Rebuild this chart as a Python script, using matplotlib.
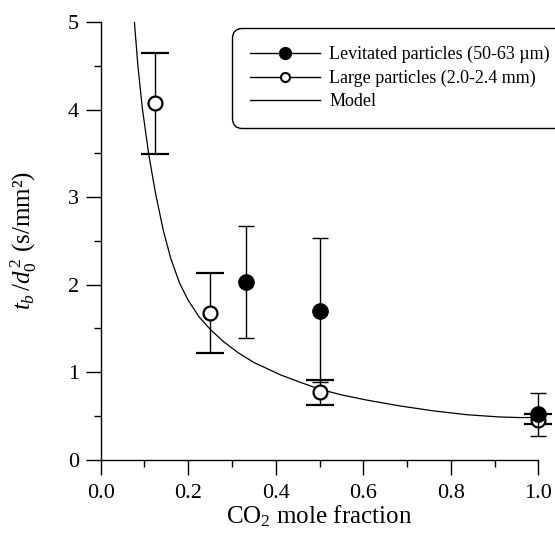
import numpy as np
import matplotlib
matplotlib.use('Agg')
import matplotlib.pyplot as plt
from matplotlib.lines import Line2D

plt.rcParams['font.family'] = ['Liberation Serif', 'DejaVu Serif']
plt.rcParams['mathtext.fontset'] = 'custom'
plt.rcParams['mathtext.rm'] = 'Liberation Serif'
plt.rcParams['mathtext.it'] = 'Liberation Serif:italic'

# levitated particles (50-63 um), filled circles
lev_x = [0.333, 0.5, 1.0]
lev_y = [2.03, 1.70, 0.52]
lev_hi = [2.67, 2.53, 0.765]
lev_lo = [1.39, 0.885, 0.265]

# large particles (2.0-2.4 mm), open circles
big_x = [0.125, 0.25, 0.5, 1.0]
big_y = [4.07, 1.67, 0.77, 0.455]
big_hi = [4.65, 2.13, 0.91, 0.52]
big_lo = [3.49, 1.215, 0.625, 0.41]

# model curve
model_x = [0.077, 0.085, 0.095, 0.110, 0.125, 0.143, 0.160, 0.180, 0.200,
           0.225, 0.25, 0.28, 0.3145, 0.35, 0.41, 0.455, 0.50, 0.55, 0.608,
           0.684, 0.76, 0.836, 0.912, 0.96, 1.0]
model_y = [5.00, 4.50, 4.02, 3.48, 3.05, 2.62, 2.30, 2.02, 1.82,
           1.63, 1.49, 1.35, 1.22, 1.11, 0.97, 0.885, 0.805, 0.74, 0.68,
           0.613, 0.557, 0.513, 0.487, 0.48, 0.482]

fig = plt.figure(figsize=(5.55, 5.35), dpi=100)
ax = fig.add_axes([100.7/555, 1-459.6/535, 437.6/555, 437.6/535])

ax.plot(model_x, model_y, color='black', lw=0.9, zorder=2)

bx = np.array(big_x); by = np.array(big_y)
yerr_b = [by - np.array(big_lo), np.array(big_hi) - by]
ax.errorbar(bx, by, yerr=yerr_b, fmt='o', mfc='white', mec='black', mew=1.6,
            ms=10, ecolor='black', elinewidth=1, capsize=10.4, capthick=1,
            clip_on=False, zorder=3)

lx = np.array(lev_x); ly = np.array(lev_y)
yerr_l = [ly - np.array(lev_lo), np.array(lev_hi) - ly]
ax.errorbar(lx, ly, yerr=yerr_l, fmt='o', mfc='black', mec='black',
            ms=11, ecolor='black', elinewidth=1, capsize=5.6, capthick=1,
            clip_on=False, zorder=4)

ax.set_xlim(0, 1.0)
ax.set_ylim(0, 5)
ax.set_xticks(np.arange(0, 1.01, 0.2))
ax.set_xticks(np.arange(0.1, 1.0, 0.2), minor=True)
ax.set_yticks(range(6))
ax.set_yticks(np.arange(0.5, 5, 1.0), minor=True)
ax.xaxis.set_major_formatter(matplotlib.ticker.FormatStrFormatter('%.1f'))
ax.spines['top'].set_visible(False)
ax.spines['right'].set_visible(False)
for s in ['left', 'bottom']:
    ax.spines[s].set_linewidth(1)
ax.tick_params(which='major', direction='out', length=10.8, width=1,
               labelsize=16)
ax.tick_params(which='minor', direction='out', length=5, width=1)
ax.tick_params(axis='x', which='major', pad=7)
ax.tick_params(axis='y', which='major', pad=5)

ax.set_xlabel('CO$_2$ mole fraction', fontsize=18, labelpad=0)
ax.set_ylabel(r'$t_b\,/d_{\mathit{0}}^{\,2}$ (s/mm²)', fontsize=18)
ax.yaxis.set_label_coords(-0.14, 0.5)

handles = [
    Line2D([], [], color='black', lw=1, marker='o', ms=8.5, mfc='black'),
    Line2D([], [], color='black', lw=1, marker='o', ms=6.5, mfc='white', mew=1.5),
    Line2D([], [], color='black', lw=1),
]
labels = ['Levitated particles (50-63 µm)', 'Large particles (2.0-2.4 mm)', 'Model']
leg = fig.legend(handles, labels, loc='upper left',
                 bbox_to_anchor=(232/555, 1-28/535), fontsize=13,
                 frameon=True, fancybox=True, framealpha=1, edgecolor='black',
                 borderpad=1.0, handlelength=3.9, handletextpad=0.48,
                 labelspacing=0.35, borderaxespad=0)
leg.get_frame().set_linewidth(1)
leg.get_frame().set_boxstyle('round', pad=0, rounding_size=0.55)

fig.savefig('out.png', dpi=100)
